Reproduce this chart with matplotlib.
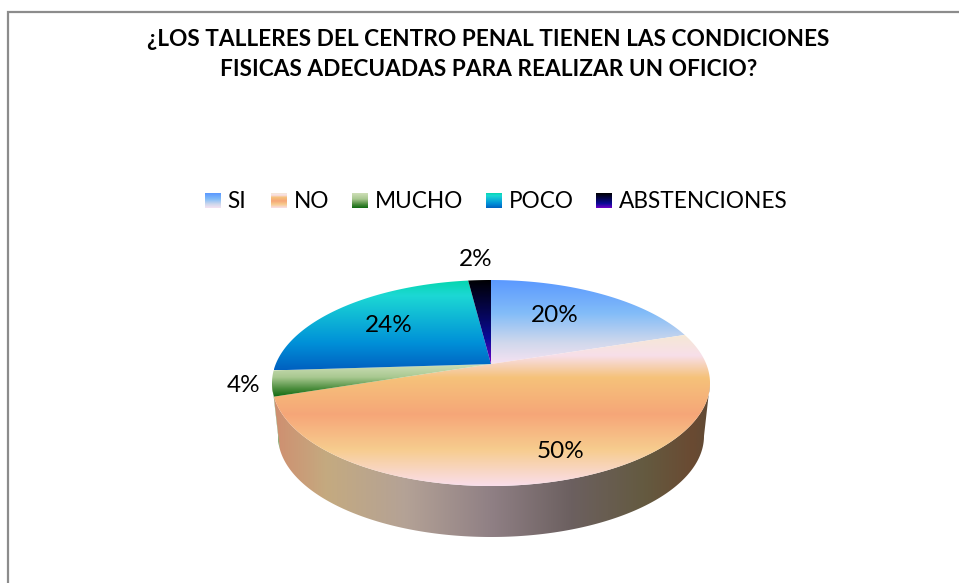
import numpy as np
import matplotlib
matplotlib.use("Agg")
import matplotlib.pyplot as plt
from matplotlib.colors import LinearSegmentedColormap
from matplotlib.patches import Polygon

categories = ["SI", "NO", "MUCHO", "POCO", "ABSTENCIONES"]
values = [20, 50, 4, 24, 2]
labels = ["20%", "50%", "4%", "24%", "2%"]
title_lines = ["¿LOS TALLERES DEL CENTRO PENAL TIENEN LAS CONDICIONES",
               "FISICAS ADECUADAS PARA REALIZAR UN OFICIO?"]

label_pos = [(555, 316), (561, 452), (244, 385), (389, 326), (476, 260)]
legend_swatch_x = [205, 271, 352, 486, 596]
legend_text_x = [227, 294, 375, 509, 619]

gradients = [
    [(0, "#5A98FF"), (.4, "#82BCF8"), (.75, "#D0D8EC"), (1, "#F6E2F2")],
    [(0, "#F5E8D4"), (.14, "#F8DFEA"), (.285, "#F5C27A"), (.53, "#F6A678"), (.76, "#F7CC8E"), (1, "#FADEEA")],
    [(0, "#CFDFB8"), (.4, "#A8C890"), (.75, "#4A8C3C"), (1, "#0F6A10")],
    [(0, "#05D6AE"), (.17, "#1CD8D4"), (.7, "#0090D8"), (1, "#0060C0")],
    [(0, "#000000"), (.35, "#05054A"), (.7, "#0A0A98"), (1, "#7000C8")],
]
side_gradient = [(0, "#CF8F70"), (.12, "#C4AA80"), (.3, "#B4A296"), (.5, "#8F7F84"),
                 (.68, "#6C6060"), (.85, "#645A40"), (.96, "#6A4A32"), (1, "#5F4A36")]

# Layout of the tilted pie, in pixels
APEX_X, TOP_CY, TOP_RX, TOP_RY = 491, 383, 219, 103
BOT_CY, BOT_RX, BOT_RY = 436, 213, 101
TILT = -0.184

fig = plt.figure(figsize=(9.59, 5.83), dpi=100, facecolor="white")
ax = fig.add_axes([0, 0, 1, 1])
ax.set_xlim(0, 959)
ax.set_ylim(583, 0)
ax.axis("off")
plt.rcParams["font.family"] = ["Lato", "DejaVu Sans"]


def rim(turn, cy=TOP_CY, rx=TOP_RX, ry=TOP_RY):
    """Perspective projection of a point on the pie's circle; turn in radians clockwise from 12 o'clock."""
    x, y = np.sin(turn), -np.cos(turn)
    d = 1 + TILT * y
    return APEX_X + rx * x * np.sqrt(1 - TILT ** 2) / d, cy + ry * (y + TILT) / d


def cmap(stops):
    return LinearSegmentedColormap.from_list("g", stops, N=256)


def fill_gradient(xy, stops, horizontal=False):
    xy = np.asarray(xy)
    x0, x1 = xy[:, 0].min(), xy[:, 0].max()
    y0, y1 = xy[:, 1].min(), xy[:, 1].max()
    grad = np.linspace(0, 1, 256)
    grad = grad[None, :] if horizontal else grad[:, None]
    im = ax.imshow(grad, cmap=cmap(stops), vmin=0, vmax=1, aspect="auto",
                   extent=(x0, x1, y1, y0), interpolation="bilinear")
    clip = Polygon(xy, closed=True, transform=ax.transData, fc="none", ec="none")
    ax.add_patch(clip)
    im.set_clip_path(clip)
    return im


edges = np.concatenate([[0], np.cumsum(values)]) / np.sum(values) * 2 * np.pi

# Frame
ax.plot([8, 8, 959], [583, 12, 12], color="#8C8C8C", lw=1.6, solid_joinstyle="miter")

# Side walls
no_end = edges[2]
t_right = np.arccos(TILT)
t = np.linspace(t_right, no_end, 300)
ux, uy = rim(t)
lx, ly = rim(t, BOT_CY, BOT_RX, BOT_RY)
side = np.column_stack([np.r_[ux, lx[::-1]], np.r_[uy, ly[::-1]]])
t = np.linspace(no_end, no_end + 0.14, 40)
ux2, uy2 = rim(t)
lx2, ly2 = rim(t, BOT_CY, BOT_RX, BOT_RY)
ax.fill(np.r_[ux2, lx2[::-1]], np.r_[uy2, ly2[::-1]], color="#5E8F45", lw=0)
fill_gradient(side, side_gradient, horizontal=True)

# Top faces
for i in range(len(values)):
    t = np.linspace(edges[i], edges[i + 1], 200)
    rx_, ry_ = rim(t)
    ax_, ay_ = rim(0.0)[0], TOP_CY + TOP_RY * TILT
    poly = np.column_stack([np.r_[ax_, rx_], np.r_[ay_, ry_]])
    fill_gradient(poly, gradients[i])

ax.set_xlim(0, 959)
ax.set_ylim(583, 0)

# Title
ax.text(488.5, 39, title_lines[0], ha="center", va="center", fontsize=16.3, fontweight="bold", color="black")
ax.text(488.5, 70, title_lines[1], ha="center", va="center", fontsize=16.3, fontweight="bold", color="black")

# Legend
for i, name in enumerate(categories):
    sx = legend_swatch_x[i]
    box = [(sx, 193), (sx + 15.5, 193), (sx + 15.5, 208), (sx, 208)]
    fill_gradient(box, gradients[i])
    ax.text(legend_text_x[i], 201, name, ha="left", va="center", fontsize=16.3, color="black")

ax.set_xlim(0, 959)
ax.set_ylim(583, 0)

# Percent labels
for (x, y), s in zip(label_pos, labels):
    ax.text(x, y, s, ha="center", va="center", fontsize=17.5, color="black")

fig.savefig("out.png", dpi=100, facecolor="white")
